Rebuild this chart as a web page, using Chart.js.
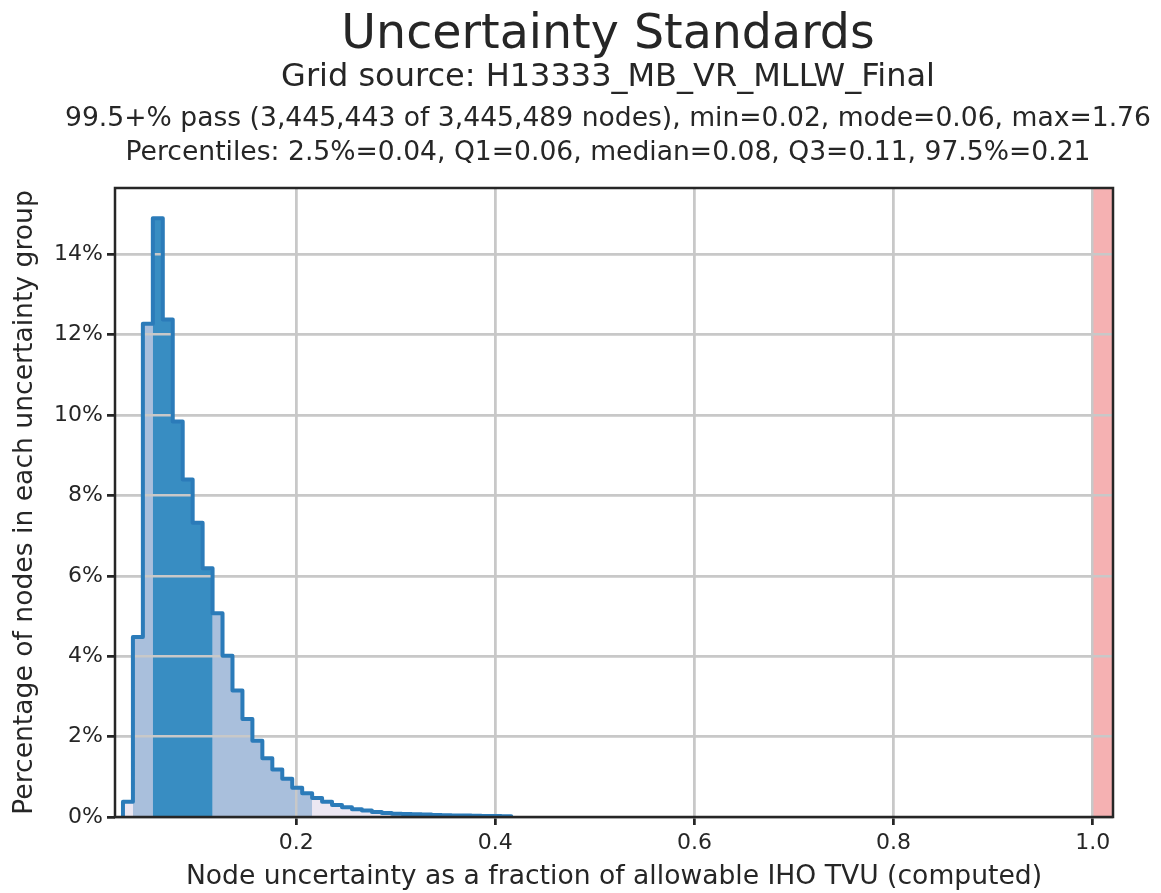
<!DOCTYPE html>
<html>
<head>
<meta charset="utf-8">
<script src="https://cdn.jsdelivr.net/npm/chart.js@4/dist/chart.umd.min.js"></script>
<style>
  html, body { margin: 0; padding: 0; background: #ffffff; }
  #wrap { position: relative; width: 1161px; height: 893px; overflow: hidden; }
  #c { position: absolute; left: 0; top: 0; }
  .t { position: absolute; left: 608px; transform: translateX(-50%); white-space: nowrap;
       font-family: 'DejaVu Sans', sans-serif; color: #262626; line-height: 1; }
</style>
</head>
<body>
<div id="wrap">
  <canvas id="c" width="1161" height="893"></canvas>
  <div class="t" style="top:8px; font-size:47.5px;">Uncertainty Standards</div>
  <div class="t" style="top:59px; font-size:32px;">Grid source: H13333_MB_VR_MLLW_Final</div>
  <div class="t" style="top:103.5px; font-size:26.6px;">99.5+% pass (3,445,443 of 3,445,489 nodes), min=0.02, mode=0.06, max=1.76</div>
  <div class="t" style="top:137.5px; font-size:26.6px;">Percentiles: 2.5%=0.04, Q1=0.06, median=0.08, Q3=0.11, 97.5%=0.21</div>
</div>
<script>
// ---- data ----
const binEdges = [0.026, 0.036, 0.046, 0.056, 0.066, 0.076, 0.086, 0.096, 0.106, 0.116,
                  0.126, 0.136, 0.146, 0.156, 0.166, 0.176, 0.186, 0.196, 0.206, 0.216,
                  0.226, 0.236, 0.246, 0.256, 0.266, 0.276, 0.286, 0.296, 0.306, 0.316,
                  0.326, 0.336, 0.346, 0.356, 0.366, 0.376, 0.386, 0.396, 0.406, 0.416];
const nodePercent = [0.38, 4.48, 12.27, 14.90, 12.38, 9.84, 8.40, 7.32, 6.19, 5.07,
                     4.01, 3.15, 2.44, 1.90, 1.46, 1.18, 0.95, 0.73, 0.59, 0.475,
                     0.38, 0.30, 0.24, 0.19, 0.16, 0.125, 0.10, 0.083, 0.075, 0.067,
                     0.06, 0.052, 0.045, 0.04, 0.035, 0.03, 0.026, 0.022, 0.018];
const band95 = [0.036, 0.216];   // bins between 2.5% and 97.5%
const bandIQR = [0.056, 0.116];  // bins between Q1 and Q3
const failStart = 1.0;           // allowable TVU
const maxUncertainty = 1.76;
const xTickValues = [0.2, 0.4, 0.6, 0.8, 1.0];
const yTickValues = [0, 2, 4, 6, 8, 10, 12, 14];
const xLimits = [0.018, 1.0204];
const yLimits = [0, 15.65];

const FONT = 'DejaVu Sans';
const TEXT = '#262626';

function stepPoints(lo, hi) {
  const pts = [];
  let last = -1;
  for (let i = 0; i < nodePercent.length; i++) {
    if (binEdges[i] >= lo - 1e-9 && binEdges[i + 1] <= hi + 1e-9) {
      pts.push({ x: binEdges[i], y: nodePercent[i] });
      last = i;
    }
  }
  pts.push({ x: binEdges[last + 1], y: nodePercent[last] });
  return pts;
}
const allBins = stepPoints(binEdges[0], binEdges[binEdges.length - 1]);
const outline = [{ x: binEdges[0], y: 0 }, ...allBins, { x: binEdges[binEdges.length - 1], y: 0 }];

const fillDs = (data, color) => ({
  data, stepped: true, fill: 'origin', backgroundColor: color,
  borderColor: 'rgba(0,0,0,0)', borderWidth: 0, pointRadius: 0, pointHoverRadius: 0
});

const gridOverFill = {
  id: 'gridOverFill',
  beforeDatasetDraw(chart, args) {
    if (args.index !== 0) return;
    chart.scales.x.drawGrid(chart.chartArea);
    chart.scales.y.drawGrid(chart.chartArea);
  }
};
const frame = {
  id: 'frame',
  afterDraw(chart) {
    const { ctx, chartArea: a } = chart;
    ctx.save();
    ctx.strokeStyle = TEXT;
    ctx.lineWidth = 2.5;
    ctx.strokeRect(a.left, a.top, a.right - a.left, a.bottom - a.top);
    ctx.restore();
  }
};

new Chart(document.getElementById('c'), {
  type: 'line',
  data: {
    datasets: [
      { data: outline, stepped: true, fill: false, borderColor: '#2b7bb9', borderWidth: 4,
        borderJoinStyle: 'round', borderCapStyle: 'round', pointRadius: 0, pointHoverRadius: 0 },
      fillDs(stepPoints(bandIQR[0], bandIQR[1]), '#388dc2'),
      fillDs(stepPoints(band95[0], band95[1]), '#a9bfdc'),
      fillDs(allBins, '#ece7f2'),
      fillDs([{ x: failStart, y: yLimits[1] }, { x: maxUncertainty, y: yLimits[1] }], '#f5b1b2')
    ]
  },
  options: {
    responsive: false,
    animation: false,
    events: [],
    layout: { padding: { left: 0, right: 48, top: 188, bottom: 0 } },
    plugins: { legend: { display: false }, tooltip: { enabled: false }, title: { display: false } },
    scales: {
      x: {
        type: 'linear', min: xLimits[0], max: xLimits[1],
        afterBuildTicks: s => { s.ticks = xTickValues.map(v => ({ value: v })); },
        afterFit: s => { s.height = 76; },
        ticks: { callback: v => Number(v).toFixed(1), color: TEXT, font: { family: FONT, size: 22 },
                 padding: 5, maxRotation: 0, autoSkip: false },
        grid: { color: '#c8c8c8', lineWidth: 2.5, tickLength: 8, tickColor: TEXT, tickWidth: 2.5 },
        border: { display: false },
        title: { display: true, text: 'Node uncertainty as a fraction of allowable IHO TVU (computed)',
                 color: TEXT, font: { family: FONT, size: 26.6, lineHeight: 1 }, padding: { top: 0, bottom: 3 } }
      },
      y: {
        type: 'linear', min: yLimits[0], max: yLimits[1],
        afterBuildTicks: s => { s.ticks = yTickValues.map(v => ({ value: v })); },
        afterFit: s => { s.width = 115; },
        ticks: { callback: v => v + '%', color: TEXT, font: { family: FONT, size: 22 }, padding: 4, autoSkip: false },
        grid: { color: '#c8c8c8', lineWidth: 2.5, tickLength: 8, tickColor: TEXT, tickWidth: 2.5 },
        border: { display: false },
        title: { display: true, text: 'Percentage of nodes in each uncertainty group',
                 color: TEXT, font: { family: FONT, size: 26.6, lineHeight: 1 }, padding: { top: 12, bottom: 0 } }
      }
    }
  },
  plugins: [gridOverFill, frame]
});
</script>
</body>
</html>
